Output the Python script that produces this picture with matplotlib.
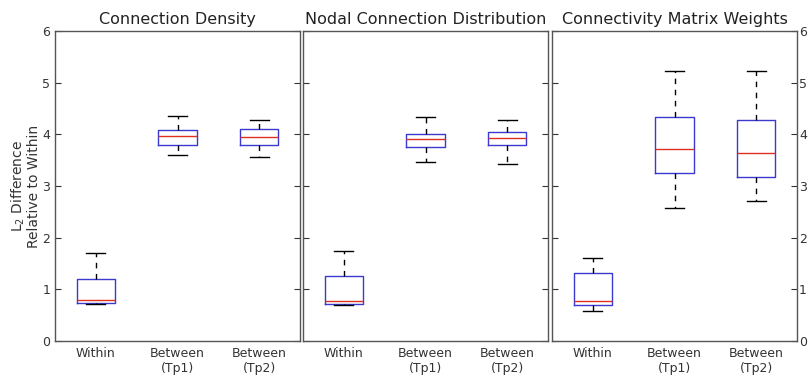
import matplotlib
matplotlib.use('Agg')
import matplotlib.pyplot as plt

titles = ['Connection Density', 'Nodal Connection Distribution', 'Connectivity Matrix Weights']
groups = ['Within', 'Between\n(Tp1)', 'Between\n(Tp2)']

# per panel, per group: lower whisker, Q1, median, Q3, upper whisker
density = [(0.72, 0.74, 0.79, 1.20, 1.70),
           (3.60, 3.80, 3.97, 4.08, 4.36),
           (3.56, 3.80, 3.95, 4.10, 4.27)]
nodal = [(0.70, 0.71, 0.77, 1.25, 1.74),
         (3.46, 3.75, 3.91, 4.01, 4.34),
         (3.43, 3.79, 3.92, 4.04, 4.28)]
weights = [(0.59, 0.70, 0.77, 1.31, 1.61),
           (2.57, 3.25, 3.71, 4.34, 5.22),
           (2.71, 3.17, 3.63, 4.28, 5.22)]
panels = [density, nodal, weights]

fig = plt.figure(figsize=(8.08, 3.78), dpi=100)
lefts = [55, 303, 552]
width = 245
axes = [fig.add_axes([l / 808, 37 / 378, width / 808, 310 / 378]) for l in lefts]

for i, (ax, data, title) in enumerate(zip(axes, panels, titles)):
    stats = [dict(whislo=d[0], q1=d[1], med=d[2], q3=d[3], whishi=d[4], fliers=[], label=g)
             for d, g in zip(data, groups)]
    ax.bxp(stats, widths=0.47, showfliers=False,
           boxprops=dict(color='#3a3ad0', linewidth=1.0),
           medianprops=dict(color='#e03020', linewidth=1.0),
           whiskerprops=dict(color='black', linestyle='--', linewidth=1.0, dashes=(4, 4)),
           capprops=dict(color='black', linewidth=1.0))
    ax.set_xlim(0.5, 3.5)
    ax.set_ylim(0, 6)
    ax.set_yticks(range(7))
    ax.set_title(title, fontsize=11.5, color='#222222', pad=5)
    ax.tick_params(axis='x', length=0, labelsize=9, colors='#333333', pad=4)
    ax.tick_params(axis='y', direction='in', length=4, labelsize=9, colors='#333333',
                   left=True, right=True, labelleft=(i == 0), labelright=(i == 2))
    for sp in ax.spines.values():
        sp.set_color('#555555')
        sp.set_linewidth(1.0)

axes[2].tick_params(axis='y', pad=1.5)
axes[0].set_ylabel('L$_2$ Difference\nRelative to Within', fontsize=10, color='#333333',
                   labelpad=1, linespacing=1.0)

fig.savefig('out.png', dpi=100)
